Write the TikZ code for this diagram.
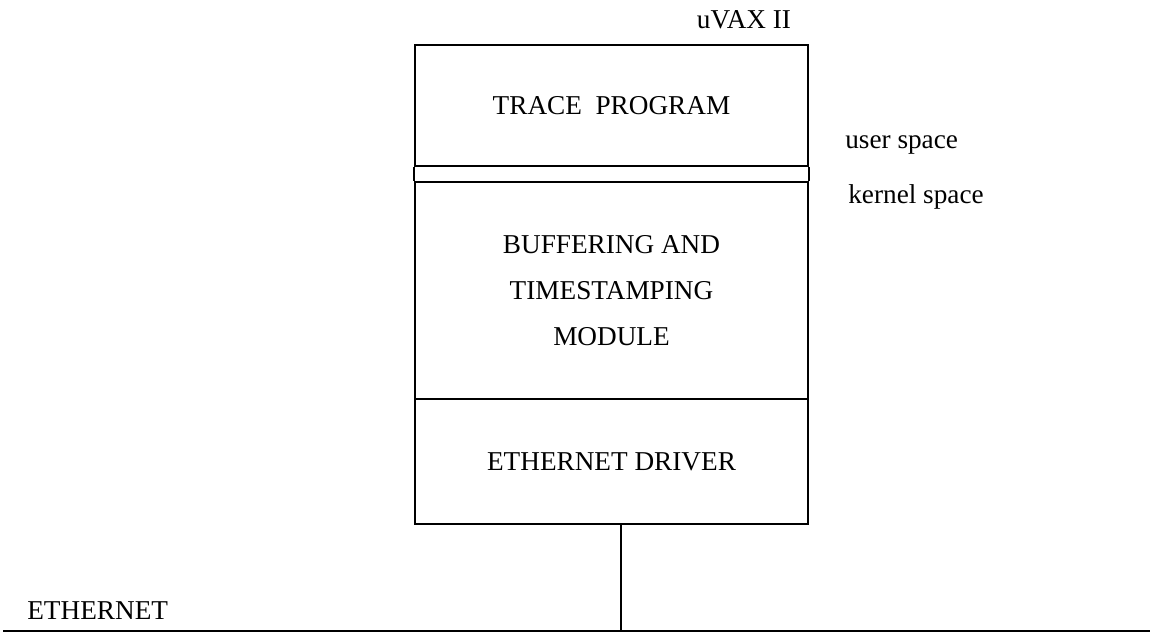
\documentclass[tikz,border=0pt]{standalone}
\usepackage{fontspec}
\setmainfont{Liberation Serif}
\usepackage{tikz}
\usetikzlibrary{positioning,calc}

\tikzset{
  layer/.style={draw,line width=1.4pt,minimum width=7.86cm,inner sep=0pt,align=center},
  tag/.style={inner sep=0pt,anchor=west}
}

\begin{document}
\begin{tikzpicture}[x=0.02cm,y=-0.02cm,font=\fontsize{15.5}{26}\selectfont]
  \useasboundingbox (0,0) rectangle (1150,634);
  % the three layers of the host
  \node[layer,minimum height=2.42cm] (trace) at (611.5,105.5) {TRACE\ \ PROGRAM};
  \node[layer,minimum height=4.34cm] (buffer) at (611.5,290.5) {BUFFERING AND\\TIMESTAMPING\\MODULE};
  \node[layer,minimum height=2.5cm] (driver) at (611.5,461.5) {ETHERNET DRIVER};
  \draw[line width=1.4pt] (trace.south west) -- (buffer.north west);
  \draw[line width=1.4pt] (trace.south east) -- (buffer.north east);
  \node (host) at (744,20) {uVAX II};
  \node[tag] (user) at (845,145) {user space};
  \node[tag] (kernel) at (848,197) {kernel space};
  % the cable
  \coordinate (tap) at (621,631);
  \coordinate (ethL) at (3,631);
  \coordinate (ethR) at (1150,631);
  \draw[line width=1.2pt] (ethL) -- (ethR);
  \draw[line width=1.2pt] (driver.south -| tap) -- (tap);
  \node[tag] (eth) at (27,611) {ETHERNET};
\end{tikzpicture}
\end{document}
